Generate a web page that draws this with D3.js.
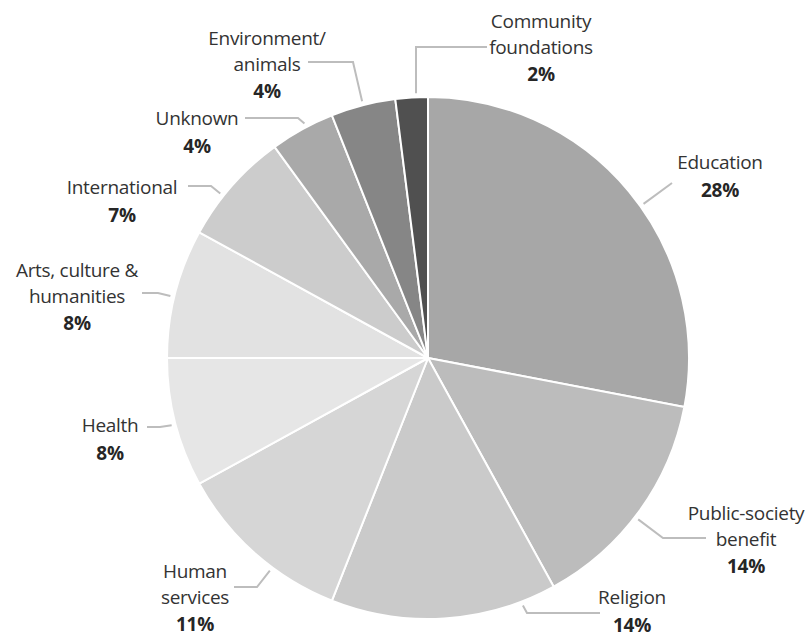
<!DOCTYPE html>
<html>
<head>
<meta charset="utf-8">
<script src="https://cdn.jsdelivr.net/npm/d3@7"></script>
<style>
  html, body { margin: 0; padding: 0; background: #ffffff; }
  svg { display: block; }
  text { font-family: "Open Sans", "Noto Sans", sans-serif; }
</style>
</head>
<body>
<svg id="chart" width="810" height="637"></svg>
<script>
// Giving by recipient category (share of total, %)
const categories = [
  "Education", "Public-society benefit", "Religion", "Human services", "Health",
  "Arts, culture & humanities", "International", "Unknown", "Environment/animals",
  "Community foundations"
];
const shares = [28, 14, 14, 11, 8, 8, 7, 4, 4, 2];
const labelLines = [
  ["Education"], ["Public-society", "benefit"], ["Religion"], ["Human", "services"],
  ["Health"], ["Arts, culture &", "humanities"], ["International"], ["Unknown"],
  ["Environment/", "animals"], ["Community", "foundations"]
];

// Slice fills, greys from mid to light and then darker for the small slices
const fills = ["#a7a7a7", "#bcbcbc", "#cacaca", "#d6d6d6", "#e6e6e6",
               "#e2e2e2", "#cccccc", "#a9a9a9", "#868686", "#505050"];

// Label layout: text centre x, centre y of the name block's first line,
// the leader's anchor position within the slice (0..1) and its elbow / end points.
const layout = {
  "Education":                  { x: 720, y: 162, t: 0.54, pts: [[672, 183]] },
  "Public-society benefit":     { x: 746, y: 515, t: 0.53, pts: [[663, 538], [706, 538]] },
  "Religion":                   { x: 632, y: 597, t: 0.155, pts: [[527, 613], [600, 613]] },
  "Human services":             { x: 195, y: 573, t: 0.38, pts: [[257, 587], [234, 587]] },
  "Health":                     { x: 110, y: 425, t: 0.49, pts: [[160, 427], [147, 427]] },
  "Arts, culture & humanities": { x: 77,  y: 272, t: 0.47, pts: [[158, 293], [142, 293]] },
  "International":              { x: 122, y: 187, t: 0.38, pts: [[211, 186], [188, 186]] },
  "Unknown":                    { x: 197, y: 118, t: 0.57, pts: [[298, 118], [245, 118]] },
  "Environment/animals":        { x: 267, y: 40,  t: 0.5,  pts: [[353, 62], [308, 62]] },
  "Community foundations":      { x: 541, y: 23,  t: 0.64, pts: [[416, 47], [487, 47]] }
};

const cx = 428, cy = 358, R = 261;
const lineGap = 26;          // spacing between name lines
const nominalGap = 23;       // block spacing the share line is placed from
const pctGap = 28;
const fontSize = 19;

const data = categories.map((c, i) => ({ name: c, value: shares[i], lines: labelLines[i], fill: fills[i] }));

const svg = d3.select("#chart");
const g = svg.append("g").attr("transform", `translate(${cx},${cy})`);

const pie = d3.pie().value(d => d.value).sort(null);
const arcs = pie(data);
const arc = d3.arc().innerRadius(0).outerRadius(R);

g.selectAll("path.slice")
  .data(arcs)
  .join("path")
  .attr("class", "slice")
  .attr("d", arc)
  .attr("fill", d => d.data.fill)
  .attr("stroke", "#ffffff")
  .attr("stroke-width", 2)
  .attr("stroke-linejoin", "round");

// Leader lines: start just outside the rim at the slice's anchor angle
const leaderR = R + 4;
const line = d3.line();
svg.selectAll("path.leader")
  .data(arcs)
  .join("path")
  .attr("class", "leader")
  .attr("fill", "none")
  .attr("stroke", "#bdbdbd")
  .attr("stroke-width", 2)
  .attr("d", d => {
    const L = layout[d.data.name];
    const a = d.startAngle + (d.endAngle - d.startAngle) * L.t;
    const start = [cx + leaderR * Math.sin(a), cy - leaderR * Math.cos(a)];
    return line([start, ...L.pts]);
  });

// Labels: category name (regular, possibly on two lines) and share (bold)
const labels = svg.selectAll("g.label")
  .data(data)
  .join("g")
  .attr("class", "label")
  .attr("transform", d => `translate(${layout[d.name].x},${layout[d.name].y})`);

labels.each(function(d) {
  const el = d3.select(this);
  const n = d.lines.length;
  // keep a multi-line name centred on its nominal block
  const shift = (n - 1) * (nominalGap - lineGap) / 2;
  d.lines.forEach((ln, i) => {
    el.append("text")
      .attr("x", 0)
      .attr("y", i * lineGap + shift)
      .attr("dy", "0.35em")
      .attr("text-anchor", "middle")
      .attr("font-size", fontSize)
      .attr("letter-spacing", -0.3)
      .attr("fill", "#333333")
      .text(ln);
  });
  el.append("text")
    .attr("x", 0)
    .attr("y", (n - 1) * nominalGap + pctGap)
    .attr("dy", "0.35em")
    .attr("text-anchor", "middle")
    .attr("font-size", fontSize)
    .attr("font-weight", "bold")
    .attr("letter-spacing", -0.3)
    .attr("fill", "#262626")
    .text(d.value + "%");
});
</script>
</body>
</html>
